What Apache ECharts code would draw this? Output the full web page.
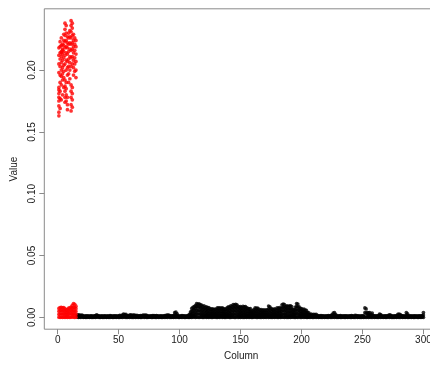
<!DOCTYPE html>
<html>
<head>
<meta charset="utf-8">
<script src="https://cdn.jsdelivr.net/npm/echarts@6/dist/echarts.min.js"></script>
<style>
  html, body { margin: 0; padding: 0; background: #ffffff; }
  #chart { width: 430px; height: 369px; }
</style>
</head>
<body>
<div id="chart"></div>
<script>
// Per-column values. Columns 1-15 are the highlighted (red) group,
// columns 16-300 the remaining (black) group.

const xTicks = [0, 50, 100, 150, 200, 250, 300];
const yTicks = [0, 0.05, 0.10, 0.15, 0.20];

// Highlighted columns 1..15: the high-valued cluster
const redHigh = [
  [0.163, 0.166, 0.171, 0.175, 0.178, 0.181, 0.184, 0.186, 0.198, 0.205, 0.212, 0.218],
  [0.169, 0.177, 0.183, 0.190, 0.196, 0.203, 0.209, 0.214, 0.219, 0.223],
  [0.176, 0.188, 0.195, 0.200, 0.206, 0.211, 0.215, 0.220, 0.226, 0.214],
  [0.180, 0.192, 0.197, 0.202, 0.208, 0.213, 0.217, 0.221, 0.216],
  [0.186, 0.194, 0.199, 0.204, 0.210, 0.215, 0.220, 0.224, 0.229],
  [0.174, 0.178, 0.183, 0.187, 0.192, 0.205, 0.212, 0.218, 0.223, 0.228, 0.233, 0.238],
  [0.175, 0.180, 0.185, 0.190, 0.200, 0.208, 0.214, 0.219, 0.224, 0.230, 0.236],
  [0.168, 0.172, 0.178, 0.196, 0.202, 0.207, 0.213, 0.218, 0.222, 0.227],
  [0.190, 0.197, 0.203, 0.209, 0.215, 0.221, 0.226, 0.230],
  [0.193, 0.200, 0.206, 0.211, 0.217, 0.222, 0.227, 0.232],
  [0.167, 0.172, 0.178, 0.183, 0.188, 0.203, 0.210, 0.216, 0.221, 0.226, 0.231, 0.236, 0.240],
  [0.170, 0.176, 0.181, 0.186, 0.205, 0.211, 0.217, 0.222, 0.228, 0.234, 0.238],
  [0.196, 0.202, 0.208, 0.214, 0.219, 0.224, 0.229],
  [0.199, 0.205, 0.210, 0.216, 0.221, 0.226],
  [0.194, 0.200, 0.207, 0.213, 0.219, 0.224]
];

// Highlighted columns 1..15: the near-zero values (in thousandths)
const redLow = [
  [0.1, 2.4, 4.9, 7.2],
  [0.0, 2.7, 5.3, 7.8],
  [0.2, 2.9, 5.6, 8.0],
  [0.0, 2.5, 5.1, 7.6],
  [0.1, 2.8, 5.4, 7.9],
  [0.0, 2.2, 4.6, 7.0],
  [0.1, 1.9, 3.9, 6.1],
  [0.0, 2.1, 4.2, 6.5],
  [0.2, 2.6, 5.0, 7.4],
  [0.0, 2.7, 5.2, 7.7],
  [0.1, 3.0, 5.7, 8.2],
  [0.3, 2.5, 4.9, 7.3, 9.6],
  [0.2, 2.6, 5.2, 8.0, 11.2],
  [0.0, 2.5, 5.0, 7.8, 10.6],
  [0.1, 2.4, 4.8, 7.0, 9.0]
];

// Remaining columns 16..300 (in thousandths): highest value per column
const blackPeak = [
  1.8, 2.0, 1.8, 1.6, 1.9, 1.2, 1.0, 1.3, 1.1, 1.2,
  1.0, 1.3, 1.1, 0.9, 1.2, 1.4, 2.0, 1.5, 1.1, 1.0,
  1.2, 1.0, 1.3, 1.1, 0.9, 1.2, 1.0, 1.4, 1.1, 1.0,
  1.2, 1.1, 1.3, 1.0, 1.2, 1.6, 1.3, 1.9, 2.6, 2.2,
  2.4, 1.5, 1.3, 1.8, 2.0, 1.6, 1.9, 1.8, 1.5, 1.7,
  1.2, 1.1, 1.4, 1.3, 1.8, 1.6, 1.9, 1.7, 1.2, 1.0,
  1.3, 1.1, 1.5, 1.4, 1.3, 1.5, 1.2, 1.0, 1.1, 1.3,
  1.0, 1.2, 1.4, 1.6, 1.8, 1.9, 1.5, 1.2, 1.1, 1.4,
  3.8, 4.2, 2.8, 1.3, 1.0, 1.2, 1.4, 1.1, 1.3, 1.0,
  1.2, 1.5, 2.4, 4.5, 7.2, 8.0, 8.6, 9.5, 11.2, 10.6,
  11.0, 10.2, 9.9, 8.7, 9.3, 8.0, 8.5, 7.6, 7.8, 6.9,
  6.6, 6.9, 6.2, 6.7, 6.5, 7.7, 7.4, 7.7, 7.2, 7.6,
  7.0, 6.4, 6.8, 7.6, 8.5, 8.0, 9.3, 8.8, 10.4, 9.8,
  10.6, 10.1, 8.9, 8.3, 8.6, 7.9, 8.8, 8.4, 8.7, 7.6,
  7.2, 6.8, 7.1, 5.1, 5.4, 6.3, 7.7, 7.2, 7.5, 6.6,
  5.9, 6.2, 5.6, 6.1, 5.7, 6.0, 5.8, 9.1, 8.4, 7.2,
  6.7, 6.3, 6.9, 6.1, 7.7, 7.3, 7.9, 7.1, 10.1, 10.7,
  10.3, 8.6, 9.3, 8.8, 9.1, 9.3, 8.7, 6.4, 6.1, 8.3,
  11.2, 10.8, 8.4, 7.2, 7.0, 6.1, 6.6, 5.9, 5.6, 4.1,
  3.6, 2.3, 2.6, 2.1, 2.4, 2.2, 2.5, 1.6, 1.3, 1.1,
  1.4, 1.2, 1.3, 1.0, 1.3, 1.2, 1.5, 1.1, 1.4, 2.0,
  3.4, 3.9, 2.5, 1.3, 1.2, 1.1, 1.4, 1.0, 1.3, 1.2,
  1.1, 1.3, 1.0, 1.2, 1.1, 1.4, 1.2, 1.0, 1.6, 1.5,
  1.1, 1.2, 1.0, 1.3, 1.2, 1.1, 7.6, 6.8, 3.9, 3.6,
  3.8, 2.4, 3.5, 1.4, 1.2, 1.1, 1.3, 1.5, 2.6, 2.3,
  1.2, 1.0, 1.3, 1.1, 1.2, 1.4, 2.0, 1.8, 1.1, 1.0,
  1.2, 1.1, 1.3, 2.4, 2.6, 2.2, 1.4, 1.1, 1.2, 1.0,
  3.9, 2.8, 1.3, 1.1, 1.2, 1.0, 1.3, 1.1, 1.2, 1.0,
  1.3, 1.1, 1.2, 1.4, 3.9
];

// Remaining columns 16..300 (in thousandths): a lower value per column
const blackLow = [
  0.9, 1.0, 0.8, 0.7, 0.9, 0.5, 0.4, 0.6, 0.5, 0.6,
  0.4, 0.6, 0.5, 0.4, 0.6, 0.7, 1.0, 0.7, 0.5, 0.4,
  0.6, 0.5, 0.6, 0.5, 0.4, 0.6, 0.5, 0.7, 0.5, 0.4,
  0.6, 0.5, 0.6, 0.4, 0.6, 0.8, 0.6, 0.9, 1.3, 1.1,
  1.2, 0.7, 0.6, 0.9, 1.0, 0.8, 0.9, 0.9, 0.7, 0.8,
  0.6, 0.5, 0.7, 0.6, 0.9, 0.8, 0.9, 0.8, 0.6, 0.5,
  0.6, 0.5, 0.7, 0.7, 0.6, 0.7, 0.6, 0.5, 0.5, 0.6,
  0.5, 0.6, 0.7, 0.8, 0.9, 0.9, 0.7, 0.6, 0.5, 0.7,
  1.9, 2.1, 1.4, 0.6, 0.5, 0.6, 0.7, 0.5, 0.6, 0.5,
  0.6, 0.7, 0.3, 0.6, 1.0, 1.3, 1.5, 1.8, 2.8, 2.6,
  2.9, 2.5, 2.3, 1.8, 2.1, 1.6, 1.7, 1.4, 1.5, 1.2,
  1.1, 1.2, 1.0, 1.1, 1.0, 1.4, 1.3, 1.5, 1.2, 1.4,
  1.2, 1.0, 1.1, 1.4, 1.7, 1.5, 2.0, 1.8, 2.5, 2.3,
  2.7, 2.4, 1.9, 1.6, 1.7, 1.5, 1.8, 1.7, 1.8, 1.3,
  1.2, 1.1, 1.2, 0.7, 0.8, 1.0, 1.4, 1.2, 1.3, 1.0,
  0.9, 1.0, 0.8, 0.9, 0.8, 0.9, 0.8, 2.0, 1.7, 1.2,
  1.1, 1.0, 1.1, 0.9, 1.4, 1.3, 1.5, 1.2, 2.4, 2.7,
  2.5, 1.8, 2.1, 1.9, 2.0, 2.1, 1.8, 1.0, 0.9, 1.6,
  3.0, 2.8, 1.7, 1.2, 1.1, 0.9, 1.0, 0.8, 0.7, 0.5,
  0.4, 1.1, 1.3, 1.0, 1.2, 1.1, 1.2, 0.8, 0.6, 0.5,
  0.7, 0.6, 0.6, 0.5, 0.6, 0.6, 0.7, 0.5, 0.7, 1.0,
  1.7, 1.9, 1.2, 0.6, 0.6, 0.5, 0.7, 0.5, 0.6, 0.6,
  0.5, 0.6, 0.5, 0.6, 0.5, 0.7, 0.6, 0.5, 0.8, 0.7,
  0.5, 0.6, 0.5, 0.6, 0.6, 0.5, 3.8, 3.4, 1.9, 1.8,
  1.9, 1.2, 1.7, 0.7, 0.6, 0.5, 0.6, 0.7, 1.3, 1.1,
  0.6, 0.5, 0.6, 0.5, 0.6, 0.7, 1.0, 0.9, 0.5, 0.5,
  0.6, 0.5, 0.6, 1.2, 1.3, 1.1, 0.7, 0.5, 0.6, 0.5,
  1.9, 1.4, 0.6, 0.5, 0.6, 0.5, 0.6, 0.5, 0.6, 0.5,
  0.6, 0.5, 0.6, 0.7, 1.9
];

// Remaining columns 16..300 (in thousandths): the smallest value per column
const blackFloor = [
  0.2, 0, 0.1, 0, 0.3, 0, 0.1, 0, 0, 0.2,
  0, 0.1, 0, 0, 0.2, 0, 0.1, 0.3, 0, 0,
  0.1, 0, 0, 0.2, 0, 0.1, 0, 0, 0.2, 0,
  0, 0.1, 0, 0.3, 0, 0, 0.1, 0, 0.2, 0.1,
  0, 0, 0.2, 0, 0.1, 0, 0, 0.1, 0, 0.2,
  0, 0.1, 0, 0, 0.3, 0, 0.1, 0, 0, 0.1,
  0.2, 0, 0, 0.1, 0, 0, 0.2, 0, 0.1, 0,
  0, 0.2, 0, 0.1, 0, 0.3, 0, 0, 0.1, 0,
  0.1, 0, 0.2, 0, 0, 0.1, 0, 0.2, 0, 0,
  0.1, 0, 0, 0.2, 0, 0.1, 0.3, 0, 0.2, 0.1,
  0, 0.2, 0.1, 0, 0, 0.3, 0, 0.1, 0, 0.2,
  0, 0, 0.1, 0.2, 0, 0, 0.1, 0, 0.3, 0,
  0.1, 0, 0, 0.2, 0.1, 0, 0, 0.1, 0.2, 0,
  0, 0.3, 0, 0.1, 0, 0.2, 0, 0, 0.1, 0,
  0.2, 0, 0.1, 0, 0, 0.1, 0.2, 0, 0, 0.1,
  0, 0, 0.2, 0, 0.1, 0, 0.3, 0, 0.1, 0,
  0, 0.1, 0, 0.2, 0, 0, 0.1, 0, 0.2, 0.1,
  0, 0.2, 0, 0, 0.1, 0, 0.1, 0.2, 0, 0,
  0.1, 0, 0.3, 0, 0, 0.2, 0, 0.1, 0, 0,
  0.2, 0, 0.1, 0, 0, 0.1, 0, 0.2, 0, 0.1,
  0, 0, 0.2, 0, 0.1, 0, 0, 0.3, 0, 0,
  0.1, 0, 0.2, 0, 0, 0.1, 0, 0, 0.2, 0,
  0, 0.1, 0, 0.2, 0, 0, 0.1, 0, 0, 0.3,
  0, 0.1, 0, 0, 0.2, 0, 0.1, 0, 0.2, 0,
  0.1, 0, 0, 0.2, 0, 0.1, 0, 0, 0.1, 0,
  0.2, 0, 0.1, 0, 0, 0.3, 0, 0.1, 0, 0,
  0, 0.2, 0, 0.1, 0, 0, 0.2, 0, 0.1, 0,
  0.1, 0, 0, 0.2, 0, 0.1, 0, 0, 0.3, 0,
  0, 0.1, 0, 0.2, 0
];

// Columns 108..206 carry two more intermediate values (in thousandths)
const blackUpperTall = [
  1.2, 2.6, 4.9, 5.6, 6.3, 7.1, 8.6, 8.2,
  8.5, 7.8, 7.4, 6.3, 6.9, 5.8, 6.1, 5.4, 5.5, 4.7,
  4.4, 4.8, 4.1, 4.5, 4.3, 5.4, 5.2, 5.5, 5.0, 5.3,
  4.8, 4.3, 4.6, 5.3, 6.1, 5.7, 6.9, 6.4, 7.9, 7.4,
  8.1, 7.6, 6.5, 6.0, 6.2, 5.6, 6.4, 6.1, 6.3, 5.3,
  5.0, 4.6, 4.9, 3.2, 3.5, 4.2, 5.4, 5.0, 5.2, 4.4,
  3.8, 4.1, 3.6, 4.0, 3.7, 3.9, 3.7, 6.7, 6.1, 5.0,
  4.6, 4.2, 4.7, 4.0, 5.4, 5.1, 5.6, 4.9, 7.6, 8.2,
  7.8, 6.3, 6.9, 6.5, 6.7, 6.9, 6.4, 4.3, 4.0, 6.0,
  8.6, 8.3, 6.1, 5.0, 4.8, 4.0, 4.4, 3.8, 3.6, 2.4, 2.1
];
const blackMidTall = [
  0.6, 1.4, 2.6, 3.1, 3.6, 4.2, 5.6, 5.3,
  5.7, 5.1, 4.8, 3.9, 4.4, 3.5, 3.8, 3.2, 3.3, 2.7,
  2.5, 2.8, 2.3, 2.6, 2.4, 3.2, 3.0, 3.3, 2.9, 3.1,
  2.8, 2.4, 2.6, 3.1, 3.8, 3.4, 4.4, 4.0, 5.2, 4.8,
  5.4, 5.0, 4.1, 3.7, 3.9, 3.4, 4.0, 3.8, 3.9, 3.1,
  2.9, 2.6, 2.8, 1.8, 2.0, 2.5, 3.2, 2.9, 3.1, 2.5,
  2.2, 2.4, 2.0, 2.3, 2.1, 2.2, 2.1, 4.3, 3.8, 2.9,
  2.6, 2.4, 2.7, 2.3, 3.2, 3.0, 3.4, 2.8, 5.0, 5.5,
  5.2, 3.9, 4.5, 4.1, 4.3, 4.5, 4.0, 2.5, 2.3, 3.7,
  5.9, 5.6, 3.8, 2.9, 2.8, 2.3, 2.6, 2.2, 2.0, 1.3, 1.1
];

const RED_FIRST = 1;
const BLACK_FIRST = 16;
const TALL_FIRST = 108;

function pointsFromRow(row, firstCol) {
  return row.map((v, i) => [firstCol + i, v / 1000]);
}
function pointsFromColumns(cols, firstCol, scale) {
  const out = [];
  cols.forEach((vals, i) => vals.forEach(v => out.push([firstCol + i, v / scale])));
  return out;
}

const blackPoints = []
  .concat(pointsFromRow(blackFloor, BLACK_FIRST))
  .concat(pointsFromRow(blackLow, BLACK_FIRST))
  .concat(pointsFromRow(blackMidTall, TALL_FIRST))
  .concat(pointsFromRow(blackUpperTall, TALL_FIRST))
  .concat(pointsFromRow(blackPeak, BLACK_FIRST));
const redLowPoints = pointsFromColumns(redLow, RED_FIRST, 1000);
const redHighPoints = pointsFromColumns(redHigh, RED_FIRST, 1);

const FONT = 'Liberation Sans, Arial, sans-serif';
const TEXT = '#1a1a1a';
const LINE = '#8a8a8a';
const DOT = 3.7;
const FS = 10;

const chart = echarts.init(document.getElementById('chart'), null, { renderer: 'canvas' });
chart.setOption({
  animation: false,
  backgroundColor: '#ffffff',
  grid: {
    left: 44.3, top: 8.8, width: 393.7, height: 320.4,
    outerBoundsMode: 'none', containLabel: false,
    show: true, borderColor: LINE, borderWidth: 1, backgroundColor: 'transparent'
  },
  xAxis: {
    type: 'value', min: -10.96, max: 311.96,
    splitLine: { show: false },
    axisLine: { show: false, onZero: false },
    axisTick: { show: true, inside: false, length: 5, lineStyle: { color: LINE }, customValues: xTicks },
    axisLabel: { customValues: xTicks, fontSize: FS, fontFamily: FONT, color: TEXT, margin: 6 },
    name: 'Column', nameLocation: 'middle', nameGap: 22,
    nameTextStyle: { fontSize: FS, fontFamily: FONT, color: TEXT }
  },
  yAxis: {
    type: 'value', min: -0.0096, max: 0.2496,
    splitLine: { show: false },
    axisLine: { show: false, onZero: false },
    axisTick: { show: true, inside: false, length: 5, lineStyle: { color: LINE }, customValues: yTicks },
    axisLabel: {
      customValues: yTicks, rotate: 90, fontSize: FS, fontFamily: FONT, color: TEXT, margin: 7,
      formatter: v => v.toFixed(2)
    },
    name: 'Value', nameLocation: 'middle', nameGap: 21, nameRotate: 90,
    nameTextStyle: { fontSize: FS, fontFamily: FONT, color: TEXT }
  },
  series: [
    { type: 'scatter', data: blackPoints, symbol: 'circle', symbolSize: DOT,
      itemStyle: { color: '#000000' }, silent: true },
    { type: 'scatter', data: redLowPoints, symbol: 'circle', symbolSize: DOT,
      itemStyle: { color: '#ff0000' }, silent: true },
    { type: 'scatter', data: redHighPoints, symbol: 'circle', symbolSize: DOT,
      itemStyle: { color: '#ff0000' }, silent: true }
  ]
});
</script>
</body>
</html>
